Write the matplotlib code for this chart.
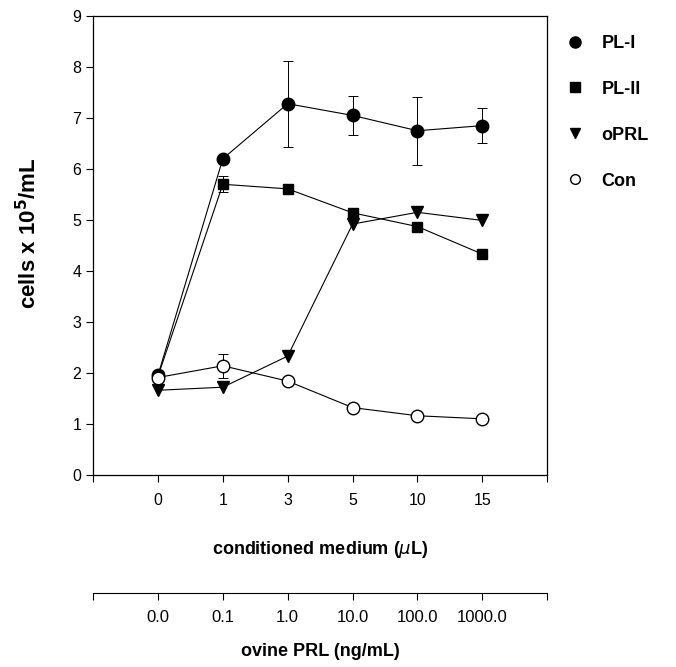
import numpy as np
import matplotlib
matplotlib.use("Agg")
import matplotlib.pyplot as plt
from matplotlib.lines import Line2D

plt.rcParams["font.family"] = ["Liberation Sans", "DejaVu Sans"]

conc_labels = ["0", "1", "3", "5", "10", "15"]
prl_labels = ["0.0", "0.1", "1.0", "10.0", "100.0", "1000.0"]

pl1 = [1.95, 6.2, 7.28, 7.05, 6.75, 6.85]
pl1_err = [0.05, 0.06, 0.84, 0.38, 0.67, 0.35]
pl2 = [1.93, 5.7, 5.61, 5.14, 4.87, 4.33]
pl2_err = [0.05, 0.16, 0.08, 0.03, 0.03, 0.03]
oprl = [1.66, 1.72, 2.33, 4.92, 5.15, 4.99]
con = [1.91, 2.14, 1.84, 1.32, 1.16, 1.1]
con_err = [0.05, 0.24, 0.03, 0.03, 0.03, 0.03]

x = np.arange(len(conc_labels))

fig = plt.figure(figsize=(6.76, 6.67), dpi=100)
ax = fig.add_axes([0.1376, 0.288, 0.672, 0.688])

ax.errorbar(x, pl1, yerr=pl1_err, fmt="o-", color="black", lw=0.8,
            ms=9, elinewidth=0.7, capsize=3.5, capthick=0.7, zorder=4)
ax.errorbar(x, pl2, yerr=pl2_err, fmt="s-", color="black", lw=0.8,
            ms=7.5, elinewidth=0.7, capsize=3.5, capthick=0.7, zorder=4)
ax.plot(x, oprl, "v-", color="black", lw=0.8, ms=8.5, zorder=4)
ax.errorbar(x, con, yerr=con_err, fmt="o-", color="black", mfc="white",
            mec="black", lw=0.8, ms=9, elinewidth=0.7, capsize=3.5,
            capthick=0.7, zorder=5)

ax.set_xlim(-1, 6)
ax.set_ylim(0, 9)
ax.set_xticks(list(range(-1, 7)))
ax.set_xticklabels([""] + conc_labels + [""])
ax.set_yticks(range(0, 10))
ax.tick_params(direction="out", length=5, width=0.8, labelsize=11.5)
ax.tick_params(axis="x", pad=8)
for s in ax.spines.values():
    s.set_linewidth(0.9)
ax.set_xlabel(r"conditioned medium ($\mu$L)", fontsize=13, fontweight="bold",
              labelpad=22)
fig.text(0.042, 0.651, r"cells x 10$^\mathbf{5}$/mL", fontsize=16,
         fontweight="bold", rotation=90, ha="center", va="center")

# second scale: ovine PRL
ax2 = fig.add_axes([0.1376, 0.111, 0.672, 0.0001])
ax2.set_xlim(-1, 6)
ax2.set_ylim(0, 1)
for side in ("left", "right", "top"):
    ax2.spines[side].set_visible(False)
ax2.spines["bottom"].set_linewidth(0.8)
ax2.set_yticks([])
ax2.set_xticks(list(range(-1, 7)))
ax2.set_xticklabels([""] + prl_labels + [""])
ax2.tick_params(direction="out", length=5, width=0.8, labelsize=12, pad=7)
ax2.set_xlabel("ovine PRL (ng/mL)", fontsize=13, fontweight="bold",
               labelpad=13)

handles = [
    Line2D([], [], marker="o", ls="none", color="black", ms=8),
    Line2D([], [], marker="s", ls="none", color="black", ms=6.5),
    Line2D([], [], marker="v", ls="none", color="black", ms=7),
    Line2D([], [], marker="o", ls="none", mfc="white", mec="black", ms=7),
]
fig.legend(handles, ["PL-I", "PL-II", "oPRL", "Con"], loc="upper left",
           bbox_to_anchor=(0.80, 0.972), frameon=False, labelspacing=1.6,
           handletextpad=0.45, prop={"weight": "bold", "size": 13})

fig.savefig("out.png", dpi=100)
